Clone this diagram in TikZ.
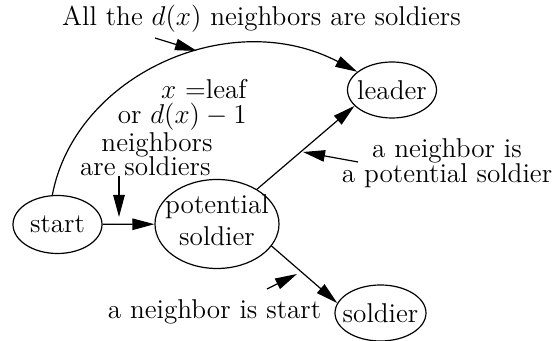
\RequirePackage{fix-cm}
\documentclass[tikz,border=0pt]{standalone}
\usetikzlibrary{shapes.geometric,arrows.meta}
\newcommand{\zbox}[1]{\makebox[0pt]{#1}}
\begin{document}
\begin{tikzpicture}[x=0.5pt,y=-0.5pt,
  every node/.style={font=\fontsize{13.6}{12.4}\selectfont},
  state/.style={draw,ellipse,inner sep=0pt,line width=0.6pt},
  lbl/.style={inner sep=0pt},
  edge/.style={draw,line width=0.6pt,-{Triangle[length=11pt,width=5.75pt]}}]
\useasboundingbox (0,0) rectangle (554,341);
\node[state,minimum width=44.5pt,minimum height=29pt] (start) at (57.5,224.5) {\zbox{start}};
\node[state,minimum width=62pt,minimum height=44.5pt] (pot) at (217,224) {\zbox{\begin{tabular}{@{}c@{}}potential\\[2.6pt]soldier\end{tabular}}};
\node[state,minimum width=44.5pt,minimum height=28pt] (leader) at (392,90) {\zbox{leader}};
\node[state,minimum width=45.5pt,minimum height=28pt] (soldier) at (380.5,313) {\zbox{soldier}};
\draw[edge] (start) -- (pot);
\draw[edge] (pot.41) -- (leader.203);
\draw[edge] (pot.338) -- (soldier.167);
\draw[edge] (start.100) .. controls (75,75) and (230,5) .. (leader);
\node[lbl,anchor=base] (lall) at (261.5,26) {All the $d(x)$ neighbors are soldiers};
\node[lbl,anchor=north east,align=right] (lleaf) at (247,79) {$x$ =leaf\\or $d(x)-1$\\neighbors\rule{17pt}{0pt}\\are soldiers\rule{18pt}{0pt}};
\node[lbl,anchor=north,align=center] (lpot) at (447,138) {a neighbor is\\a potential soldier};
\node[lbl,anchor=base] (lstart) at (214.5,319) {a neighbor is start};
\coordinate (p1t) at (155,38); \coordinate (p1h) at (197,51);
\coordinate (p2t) at (119,176); \coordinate (p2h) at (119,217);
\coordinate (p3t) at (358,162); \coordinate (p3h) at (303,152);
\coordinate (p4t) at (267,289); \coordinate (p4h) at (297,274);
\draw[edge] (p1t) -- (p1h);
\draw[edge] (p2t) -- (p2h);
\draw[edge] (p3t) -- (p3h);
\draw[edge] (p4t) -- (p4h);
\end{tikzpicture}
\end{document}
